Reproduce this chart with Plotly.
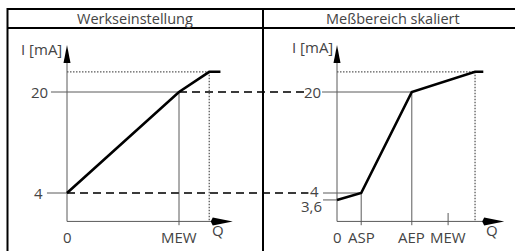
import plotly.graph_objects as go

# ---------------- data (diagram units: Q arbitrary, I in mA) ----------------
TITLES = ["Werkseinstellung", "Meßbereich skaliert"]

# left panel (factory setting)
Q_LEFT = [0, 10, 12.7, 13.7]
I_LEFT = [4, 20, 23.2, 23.2]
LEFT_TICK_LABELS = ["0", "MEW"]
LEFT_TICK_Q = [0, 10]

# right panel (scaled range)
Q_RIGHT = [0, 2.2, 6.8, 12.55, 13.3]
I_RIGHT = [2.9, 4, 20, 23.2, 23.2]          # 3,6 mA drawn schematically below 4
RIGHT_TICK_LABELS = ["0", "ASP", "AEP", "MEW"]
RIGHT_TICK_Q = [0, 2.2, 6.8, 10.1]

Y_TICK_LABELS_LEFT = ["20", "4"]
Y_TICK_VALUES_LEFT = [20, 4]

I_TOP = 23.2
AXIS_Y = -0.5
Y_ARROW_TIP = 27.45
X_ARROW_LEFT = 14.8
X_ARROW_RIGHT = 15.2

# ---------------- layout constants ----------------
W, H = 515, 251
PX_PER_I = 6.3125
Y_PX_4 = 193
X0_L, SX_L = 67, 11.2
X0_R, SX_R = 337, 11.0

yrange = [4 - (H - Y_PX_4) / PX_PER_I, 4 + Y_PX_4 / PX_PER_I]
x1range = [-X0_L / SX_L, (W - X0_L) / SX_L]
x2range = [-X0_R / SX_R, (W - X0_R) / SX_R]


def r2l(q2):
    """right-panel Q -> left-panel x axis units"""
    return (X0_R + q2 * SX_R - X0_L) / SX_L


GREY = "#5a5a5a"
TXT = "#444444"
DASH = "#3a3a3a"
FONT = "Open Sans"
FS = 15

fig = go.Figure()


def seg(xs, ys, axis="x", color=GREY, width=1, dash="solid"):
    fig.add_trace(go.Scatter(x=xs, y=ys, mode="lines", xaxis=axis, yaxis="y",
                             line=dict(color=color, width=width, dash=dash),
                             hoverinfo="skip", showlegend=False))


def label(text, x, y, axis="x", xanchor="center", yanchor="middle", size=FS):
    fig.add_annotation(text=text, x=x, y=y, xref=axis, yref="y", showarrow=False,
                       xanchor=xanchor, yanchor=yanchor,
                       font=dict(family=FONT, size=size, color=TXT))


# ---- left panel ----
seg([0, 0], [AXIS_Y, Y_ARROW_TIP - 2])
seg([0, X_ARROW_LEFT - 1], [AXIS_Y, AXIS_Y])
seg([-1.43, Q_LEFT[1]], [20, 20])
seg([-1.79, 0], [4, 4])
seg([Q_LEFT[1], Q_LEFT[1]], [20, -1.1])
seg([0, Q_LEFT[2]], [I_TOP, I_TOP], dash="1.5px,1.5px", width=1.3)
seg([Q_LEFT[2], Q_LEFT[2]], [I_TOP, AXIS_Y], dash="1.5px,1.5px", width=1.3)

# ---- right panel ----
seg([0, 0], [AXIS_Y, Y_ARROW_TIP - 2], "x2")
seg([0, X_ARROW_RIGHT - 1], [AXIS_Y, AXIS_Y], "x2")
seg([-1.36, Q_RIGHT[2]], [20, 20], "x2")
seg([-1.27, Q_RIGHT[1]], [4, 4], "x2")
seg([-1.27, 0], [I_RIGHT[0], I_RIGHT[0]], "x2")
seg([Q_RIGHT[1], Q_RIGHT[1]], [4, -1.1], "x2")
seg([Q_RIGHT[2], Q_RIGHT[2]], [20, -1.1], "x2")
seg([RIGHT_TICK_Q[3], RIGHT_TICK_Q[3]], [0.83, -1.1], "x2")
seg([0, Q_RIGHT[3]], [I_TOP, I_TOP], "x2", dash="1.5px,1.5px", width=1.3)
seg([Q_RIGHT[3], Q_RIGHT[3]], [I_TOP, AXIS_Y], "x2", dash="1.5px,1.5px", width=1.3)

# ---- dashed connectors ----
seg([Q_LEFT[1], r2l(-3.0)], [20, 20], color=DASH, width=2, dash="8px,5px")
seg([0, r2l(-2.6)], [4, 4], color=DASH, width=2, dash="8px,5px")

# ---- curves ----
seg(Q_LEFT, I_LEFT, color="black", width=2.6)
seg(Q_RIGHT, I_RIGHT, "x2", color="black", width=2.6)

# ---- labels ----
for t, v in zip(Y_TICK_LABELS_LEFT, Y_TICK_VALUES_LEFT):
    label(t, -1.5 if t == "20" else -2.0, v, xanchor="right")
label("I [mA]", -0.25, 26.8, xanchor="right")
for t, q in zip(LEFT_TICK_LABELS, LEFT_TICK_Q):
    label(t, q, -1.1, yanchor="top")
label("Q", 13.5, -1.9)

label("20", -1.3, 20, "x2", xanchor="right")
label("4", -1.5, 4.3, "x2", xanchor="right")
label("3,6", -1.2, 1.9, "x2", xanchor="right")
label("I [mA]", -0.2, 27.2, "x2", xanchor="right")
for t, q in zip(RIGHT_TICK_LABELS, RIGHT_TICK_Q):
    label(t, q, -1.1, "x2", yanchor="top")
label("Q", 14.1, -1.9, "x2")

# ---- arrows (pixel sized, anchored at data points) ----
def arrow_up(axis):
    fig.add_shape(type="path", xref=axis, yref="y", xsizemode="pixel", ysizemode="pixel",
                  xanchor=0, yanchor=Y_ARROW_TIP, path="M0,0 L-3.5,-18 L3.5,-18 Z",
                  fillcolor="black", line=dict(width=0))


def arrow_right(axis, tip):
    fig.add_shape(type="path", xref=axis, yref="y", xsizemode="pixel", ysizemode="pixel",
                  xanchor=tip, yanchor=AXIS_Y, path="M0,0 L-20,4 L-22,0 L-20,-4 Z",
                  fillcolor="black", line=dict(width=0))


arrow_up("x"); arrow_up("x2")
arrow_right("x", X_ARROW_LEFT); arrow_right("x2", X_ARROW_RIGHT)

# ---- frame (paper coords) ----
def px(x):
    return x / W


def py(y):
    return 1 - y / H


frame = dict(color="black", width=2)
fig.add_shape(type="line", xref="paper", yref="paper", x0=px(7), x1=1.01, y0=py(9), y1=py(9), line=frame)
fig.add_shape(type="line", xref="paper", yref="paper", x0=px(7), x1=1.01, y0=py(28), y1=py(28), line=frame)
fig.add_shape(type="line", xref="paper", yref="paper", x0=px(7.5), x1=px(7.5), y0=py(8), y1=-0.01, line=frame)
fig.add_shape(type="line", xref="paper", yref="paper", x0=px(263), x1=px(263), y0=py(8), y1=-0.01, line=frame)

for t, cx in zip(TITLES, [135, 393]):
    fig.add_annotation(text=t, x=px(cx), y=py(18.5), xref="paper", yref="paper", showarrow=False,
                       xanchor="center", yanchor="middle",
                       font=dict(family=FONT, size=14.5, color=TXT))

ax = dict(visible=False, showgrid=False, zeroline=False, fixedrange=True)
fig.update_layout(
    width=W, height=H, margin=dict(l=0, r=0, t=0, b=0),
    paper_bgcolor="white", plot_bgcolor="white", showlegend=False,
    xaxis=dict(ax, range=x1range, domain=[0, 1]),
    xaxis2=dict(ax, range=x2range, domain=[0, 1], overlaying="x"),
    yaxis=dict(ax, range=yrange, domain=[0, 1]),
)

fig.write_html("out.html", config=dict(displayModeBar=False),
               post_script="document.body.style.margin='0px';document.body.style.overflow='hidden';")
